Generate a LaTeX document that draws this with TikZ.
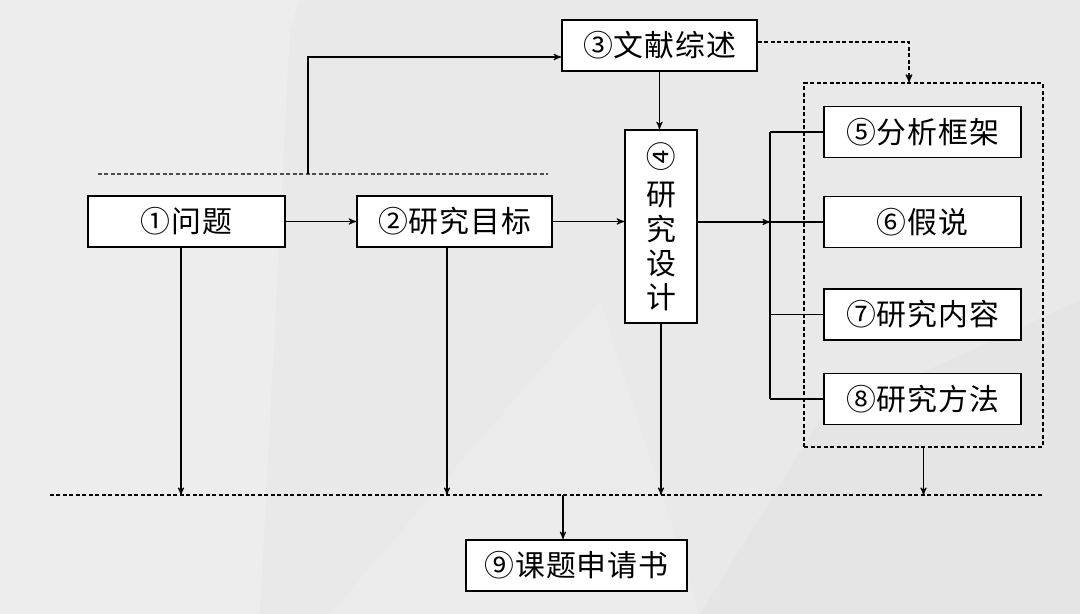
\documentclass[tikz,border=0pt]{standalone}
\usepackage{fontspec}
\usepackage{graphicx}
\setmainfont{Noto Sans CJK SC}[LetterSpace=3]
\usetikzlibrary{
    arrows
}
\definecolor{bgcol}{RGB}{233,233,233}
\definecolor{bglight}{RGB}{237,237,237}
\definecolor{bgdark}{RGB}{229,229,229}

\begin{document}
\begin{tikzpicture}[x=0.02cm,y=-0.02cm,>=stealth',line width=0.6pt]
    \tikzstyle{box}=[draw, fill=white, line width=1pt, minimum width=3.94cm, minimum height=1.02cm, inner sep=0pt, font=\fontsize{17}{19.5}\selectfont]
    \tikzstyle{dline}=[line width=0.7pt, dash pattern=on 0.08cm off 0.05cm]
	\useasboundingbox (0,0) rectangle (1080,614);
	% background
	\fill[bgcol] (0,0) rectangle (1080,614);
	\fill[bglight] (0,0) -- (300,0) -- (290,30) -- (0,120) -- cycle;
	\fill[bglight] (0,120) -- (290,30) -- (260,614) -- (0,614) -- cycle;
	\fill[bgdark] (700,614) -- (820,420) -- (1080,300) -- (1080,614) -- cycle;
	\fill[bglight!50!bgcol] (330,614) -- (600,300) -- (700,614) -- cycle;

	\node[draw, dline, minimum width=4.78cm, minimum height=7.28cm] (grp) at (923.5,265) {};

	\node[box] (wt) at (186.5,221.5) {①问题};
	\node[box, minimum width=3.9cm] (mb) at (454.5,221.5) {②研究目标};
	\node[box, minimum width=3.9cm] (ws) at (659.5,45.5) {③文献综述};
	\node[box, minimum width=1.44cm, minimum height=3.86cm, align=center] (sj) at (661,226.5) {\rotatebox{90}{④}\\研\\究\\设\\计};
	\node[box] (kj) at (922.5,132) {⑤分析框架};
	\node[box] (js) at (922.5,222) {⑥假说};
	\node[box] (nr) at (922.5,314.5) {⑦研究内容};
	\node[box] (ff) at (922.5,399) {⑧研究方法};
	\node[box, minimum width=4.42cm] (sqs) at (576.5,565.5) {⑨课题申请书};

	\coordinate (top1) at (98,174);
	\coordinate (top2) at (548,174);
	\coordinate (bot1) at (50,495);
	\coordinate (bot2) at (1043,495);
	\coordinate (up) at (308,174);
	\coordinate (upk) at (308,57);
	\coordinate (bus) at (770,222);
	\coordinate (dk) at (909,42);
	\coordinate (out) at (563,495);

	\draw[dline, black!70] (top1) -- (top2);
	\draw[dline] (bot1) -- (bot2);

	\draw [->] (up) -- (upk) -- (ws.west |- upk);
	\draw [->] (ws.south) -- (ws.south |- sj.north);
	\draw [->, dline] (ws.east |- dk) -- (dk) -- (dk |- grp.north);
	\draw [->] (wt) -- (mb);
	\draw [->] (mb.east) -- (mb.east -| sj.west);
	\draw [->] (sj.east |- bus) -- (bus);
	\draw (bus |- kj) -- (bus |- ff);
	\foreach \n in {kj,js,nr,ff}
		\draw (bus |- \n) -- (\n.west);

	\draw [->] ([xshift=-0.11cm]wt.south) -- ([xshift=-0.11cm]wt.south |- bot1);
	\draw [->] ([xshift=-0.15cm]mb.south) -- ([xshift=-0.15cm]mb.south |- bot1);
	\foreach \n in {sj,grp}
		\draw [->] (\n.south) -- (\n.south |- bot1);
	\draw [->] (out) -- (out |- sqs.north);
    \end{tikzpicture}
\end{document}
